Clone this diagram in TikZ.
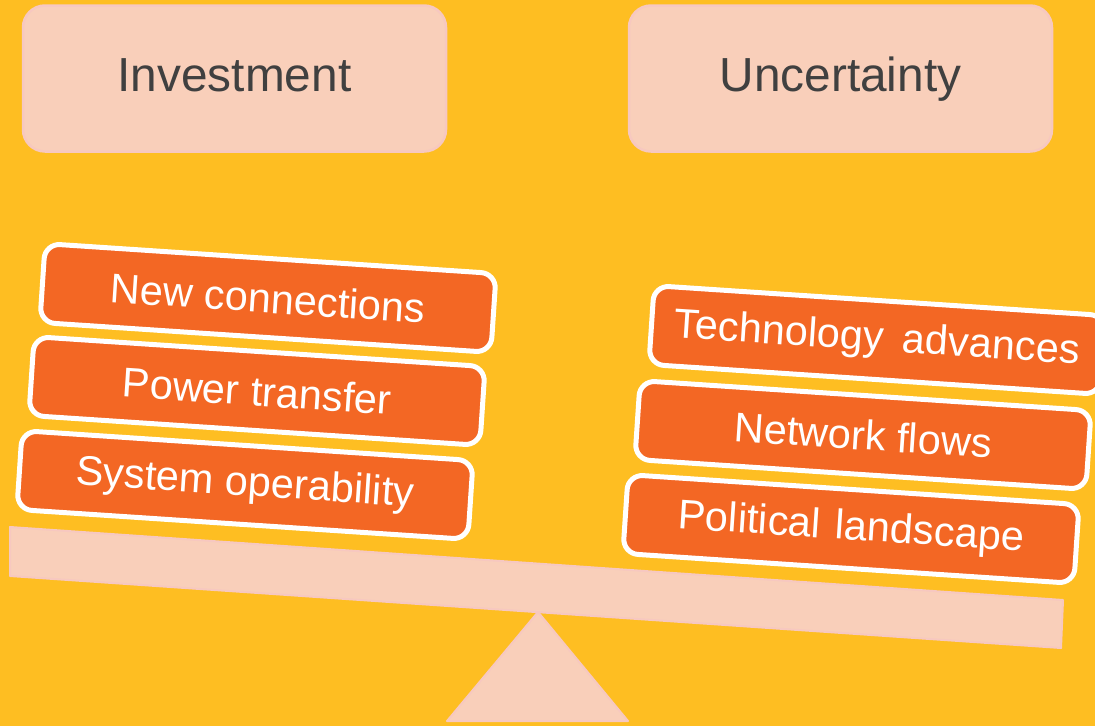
\documentclass[tikz,border=0pt]{standalone}
\usepackage{fontspec}
\setmainfont{Liberation Sans}
\definecolor{bgyellow}{HTML}{FEBE22}
\definecolor{palepink}{HTML}{F9CFBA}
\definecolor{pinkedge}{HTML}{F7C8C0}
\definecolor{boxorange}{HTML}{F36724}
\definecolor{darktext}{HTML}{404040}
\tikzset{
  headbox/.style={draw=pinkedge, fill=palepink, line width=2.5pt, rounded corners=22pt,
    minimum width=423pt, minimum height=146pt, inner sep=0pt,
    text height=35pt, text depth=10pt,
    text=darktext, font=\fontsize{47.8}{50}\selectfont},
  itembox/.style={draw=white, fill=boxorange, line width=5pt, rounded corners=15pt,
    minimum width=452pt, minimum height=79pt, inner sep=0pt, rotate=-3.8,
    text=white, font=\fontsize{41.5}{44}\selectfont},
  scalepart/.style={draw=pinkedge, fill=palepink, line width=2pt, line join=round}
}
\begin{document}
\begin{tikzpicture}[x=1pt,y=-1pt]
\fill[bgyellow] (0,0) rectangle (1095,726);
\useasboundingbox (0,0) rectangle (1095,726);
% top headers
\node[headbox] (inv) at (234.5,78.5) {Investment};
\node[headbox] (unc) at (840.5,78.5) {Uncertainty};
% fulcrum and beam
\draw[scalepart] (538,612) -- (628,721) -- (447,721) -- cycle;
\draw[scalepart] (10,527) -- (1063,600) -- (1061,648) -- (10,576) -- cycle;
% left stack
\node[itembox] (nc) at (268,298) {New connections};
\node[itembox] (pt) at (257,391) {Power transfer};
\node[itembox] (so) at (245,485) {System operability};
% right stack
\node[itembox] (ta) at (877,340) {Technology\hspace{0.45em}advances};
\node[itembox] (nf) at (863,435) {Network flows};
\node[itembox] (pl) at (851,529) {Political\hspace{0.35em}landscape};
\end{tikzpicture}
\end{document}
